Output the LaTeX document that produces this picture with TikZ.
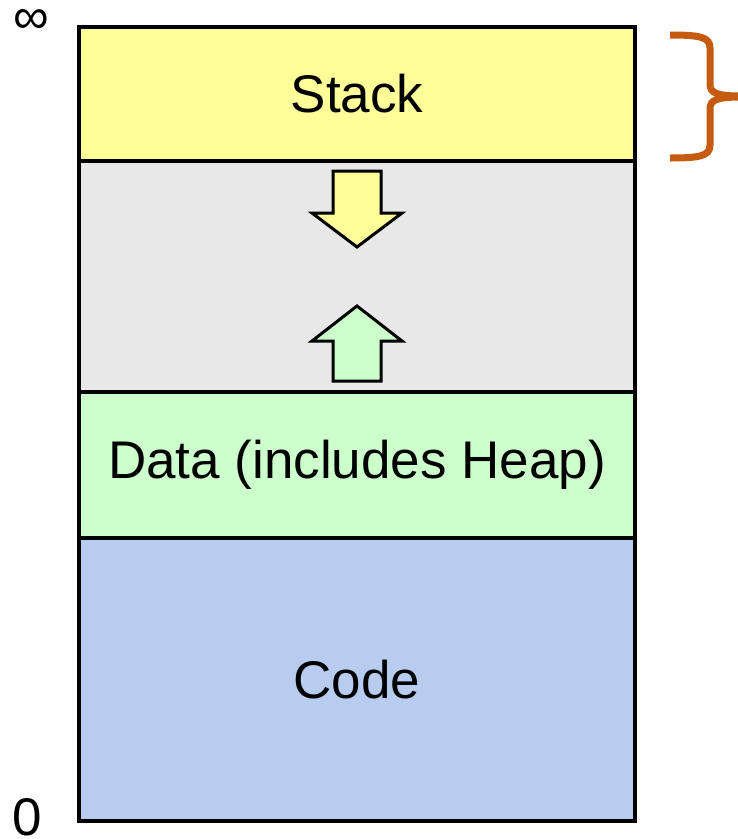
\documentclass[tikz,border=0pt]{standalone}
\usepackage{fontspec}
\setmainfont{Liberation Sans}
\begin{document}
\begin{tikzpicture}[x=1pt,y=-1pt,
  region/.style={draw=black, line width=4pt, minimum width=556pt, inner sep=0pt, outer sep=0pt, font=\fontsize{53}{60}\selectfont},
  bigarrow/.style={draw=black, line width=3pt, line join=miter},
  lbl/.style={inner sep=0pt, font=\fontsize{53}{60}\selectfont}]
\definecolor{stackc}{HTML}{FFFF99}
\definecolor{gapc}{HTML}{E8E8E8}
\definecolor{datac}{HTML}{CCFFCC}
\definecolor{codec}{HTML}{B8CCF0}
\definecolor{bracec}{HTML}{C55A11}
\useasboundingbox (0,0) rectangle (738,839);
\node[region, fill=gapc, minimum height=231pt] (gap) at (357,276.5) {};
\node[region, fill=stackc, minimum height=134pt] (stack) at (357,94) {Stack};
\node[region, fill=datac, minimum height=146pt] (data) at (357,465) {Data (includes Heap)};
\node[region, fill=codec, minimum height=283pt] (code) at (357,679.5) {Code};
% down arrow
\draw[bigarrow, fill=stackc] (333,171) -- (381,171) -- (381,213) -- (402,213) -- (357,247) -- (312,213) -- (333,213) -- cycle;
% up arrow
\draw[bigarrow, fill=datac] (333,381) -- (381,381) -- (381,341) -- (402,341) -- (357,306) -- (312,341) -- (333,341) -- cycle;
% brace
\draw[bracec, line width=7pt] (670,35) .. controls (700,35) and (710,37) .. (710,48) -- (710,84) .. controls (710,93) and (716,96) .. (742,96);
\draw[bracec, line width=7pt] (670,158) .. controls (700,158) and (710,156) .. (710,145) -- (710,109) .. controls (710,100) and (716,97) .. (742,97);
\node[lbl, font=\fontsize{50}{54}\selectfont] (inf) at (31,21) {∞};
\node[lbl] (zero) at (27,817) {0};
\end{tikzpicture}
\end{document}
